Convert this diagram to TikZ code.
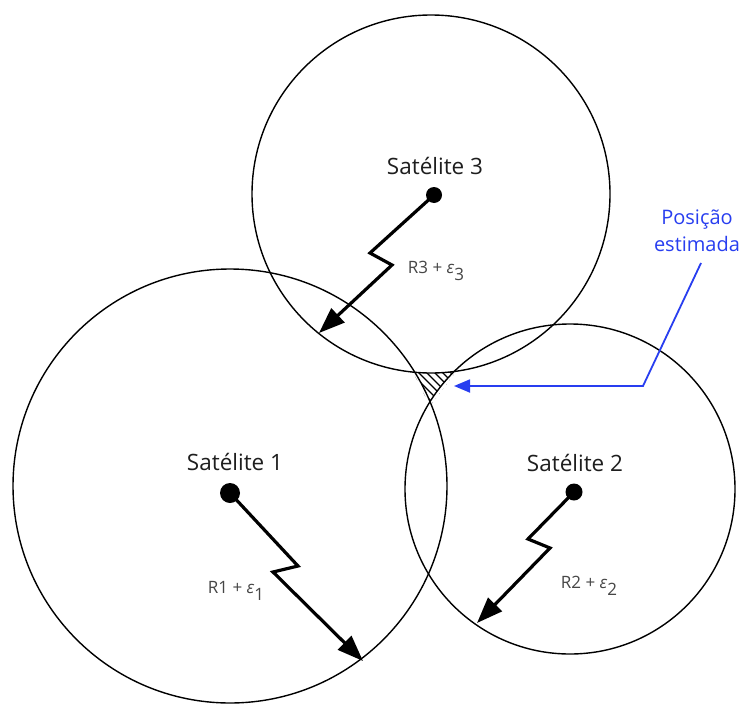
\documentclass[tikz,border=0pt]{standalone}
\usepackage{fontspec}
\setmainfont{Open Sans}
\usetikzlibrary{arrows.meta}
\definecolor{posblue}{RGB}{40,62,240}
\definecolor{labgray}{RGB}{30,30,30}
\definecolor{rgray}{RGB}{70,70,70}
\begin{document}
\begin{tikzpicture}[x=1pt,y=-1pt,
  ring/.style={draw=black,line width=1.4pt},
  satdot/.style={circle,fill=black,inner sep=0pt},
  satlabel/.style={text=labgray,font=\fontsize{22.5}{26}\selectfont,inner sep=0pt},
  rlabel/.style={text=rgray,font=\fontsize{17}{20}\selectfont,inner sep=0pt},
  signal/.style={line width=3.2pt,line join=miter,-{Triangle[length=26pt,width=19pt]}},
  bluelabel/.style={text=posblue,font=\fontsize{20}{27}\selectfont,align=center,inner sep=0pt},
  pointer/.style={draw=posblue,line width=1.8pt,-{Triangle[length=16pt,width=13pt]}},
  hatch/.style={line width=1.3pt}]
\useasboundingbox (0,0) rectangle (744,704);
\fill[white] (0,0) rectangle (744,704);
% circle centres
\coordinate (c1) at (230,486);
\coordinate (c2) at (570,489);
\coordinate (c3) at (431,194);
% hatched gap between the three circles
\begin{scope}
  \clip (410,366) -- (460,366) -- (430,406) -- cycle;
  \foreach \k in {372,380,...,470} {\draw[hatch] (\k,350) -- (\k+60,410);}
  \fill[white] (c1) circle[radius=217pt];
  \fill[white] (c2) circle[radius=165pt];
  \fill[white] (c3) circle[radius=179pt];
\end{scope}
% circles
\draw[ring] (c1) circle[radius=217pt];
\draw[ring] (c2) circle[radius=165pt];
\draw[ring] (c3) circle[radius=179pt];
% satellites
\node[satdot,minimum size=20pt] (s1) at (230,493) {};
\node[satdot,minimum size=17pt] (s2) at (574,492) {};
\node[satdot,minimum size=16pt] (s3) at (434,195) {};
\node[satlabel] (l1) at (235,462) {Satélite 1};
\node[satlabel] (l2) at (575,463) {Satélite 2};
\node[satlabel] (l3) at (435,166) {Satélite 3};
% signal paths
\coordinate (a1) at (298,566);
\coordinate (b1) at (273,572);
\coordinate (t1) at (363,661);
\coordinate (a2) at (528,539);
\coordinate (b2) at (550,548);
\coordinate (t2) at (477,623);
\coordinate (a3) at (370,253);
\coordinate (b3) at (392,265);
\coordinate (t3) at (319,333);
\draw[signal] (s1.center) -- (a1) -- (b1) -- (t1);
\draw[signal] (s2.center) -- (a2) -- (b2) -- (t2);
\draw[signal] (s3.center) -- (a3) -- (b3) -- (t3);
\node[rlabel] (r1) at (236,591) {R1 + {\itshape ε}\raisebox{-0.7ex}{1}};
\node[rlabel] (r2) at (589,586) {R2 + {\itshape ε}\raisebox{-0.7ex}{2}};
\node[rlabel] (r3) at (436,271) {R3 + {\itshape ε}\raisebox{-0.7ex}{3}};
% estimated position
\node[bluelabel] (pos) at (697,231) {Posição\\estimada};
\coordinate (p1) at (701,263);
\coordinate (p2) at (643,386);
\coordinate (gap) at (454,386);
\draw[pointer] (p1) -- (p2) -- (gap);
\end{tikzpicture}
\end{document}
